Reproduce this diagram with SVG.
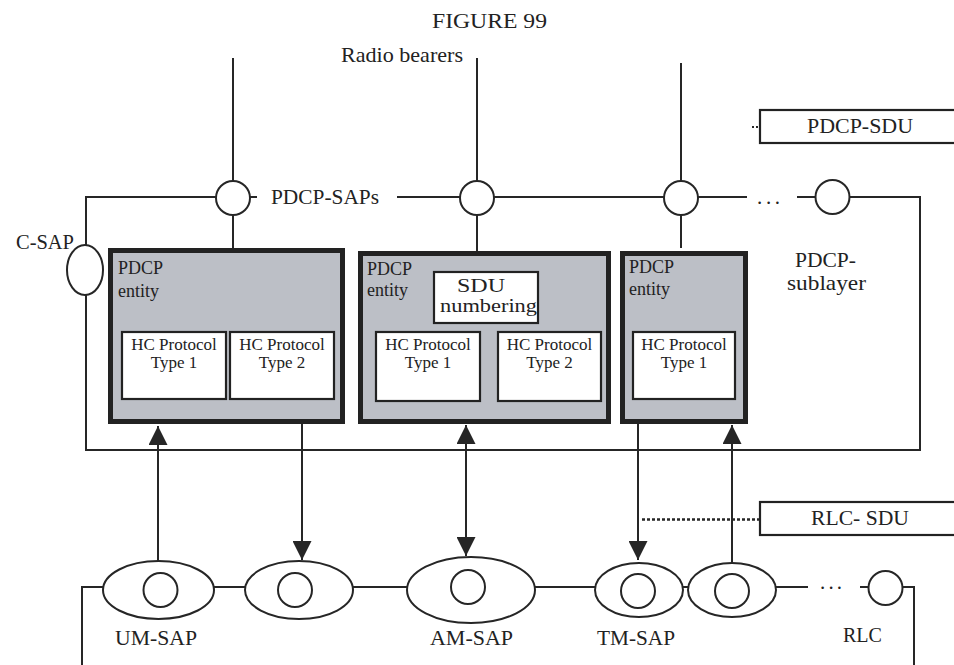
<svg xmlns="http://www.w3.org/2000/svg" width="954" height="665" viewBox="0 0 954 665">
<style>
text{font-family:"Liberation Serif","Times New Roman",serif;fill:#222}
.ln{stroke:#262626;stroke-width:2;fill:none}
.sap{stroke:#262626;stroke-width:2;fill:#fff}
.ent{fill:#bcbfc6;stroke:#222;stroke-width:5}
.hc{fill:#fff;stroke:#222;stroke-width:2.2}
.lbl{font-size:21px}
.t17{font-size:17px;text-anchor:middle}
.t18{font-size:18px}
.arr{stroke:#262626;stroke-width:2;fill:none}
</style>
<defs>
<marker id="ah" markerUnits="userSpaceOnUse" markerWidth="19" markerHeight="19" refX="19" refY="9.5" orient="auto-start-reverse">
<path d="M0,0 L19,9.5 L0,19 z" fill="#262626"/>
</marker>
</defs>

<text x="432" y="28" font-size="22" textLength="115" lengthAdjust="spacingAndGlyphs">FIGURE 99</text>
<text x="341" y="62" class="lbl" textLength="122" lengthAdjust="spacingAndGlyphs">Radio bearers</text>

<g id="pdcp-sublayer-frame">
<path class="ln" d="M233,58 V182 M477,58 V181 M681,63 V181"/>
<path class="ln" d="M86,245 V197 H216 M250,197 H257 M397,197 H460 M494,197 H664 M698,197 H747 M797,197 H815 M850,197 H920 V450 H86 V295"/>
<path class="ln" d="M233,215 V248 M477,215 V251 M681,215 V248"/>
<text x="271" y="204" class="lbl" textLength="108" lengthAdjust="spacingAndGlyphs">PDCP-SAPs</text>
<text x="757" y="204" class="lbl" textLength="23">...</text>
<text x="795" y="267" class="lbl" textLength="61" lengthAdjust="spacingAndGlyphs">PDCP-</text>
<text x="787" y="290" class="lbl" textLength="79" lengthAdjust="spacingAndGlyphs">sublayer</text>
</g>

<g id="sap-pdcp-1"><circle class="sap" cx="233" cy="198" r="17"/></g>
<g id="sap-pdcp-2"><circle class="sap" cx="477" cy="198" r="17"/></g>
<g id="sap-pdcp-3"><circle class="sap" cx="681" cy="198" r="17"/></g>
<g id="sap-pdcp-4"><circle class="sap" cx="832.5" cy="197" r="17"/></g>

<g id="c-sap">
<ellipse class="sap" cx="85" cy="270" rx="18" ry="25"/>
<text x="16" y="249" class="lbl" textLength="58" lengthAdjust="spacingAndGlyphs">C-SAP</text>
</g>

<g id="pdcp-sdu">
<rect class="hc" x="760" y="110" width="210" height="33"/>
<path d="M752,127 H759" stroke="#262626" stroke-width="2" stroke-dasharray="2 2"/>
<text x="807" y="133" class="lbl" textLength="106" lengthAdjust="spacingAndGlyphs">PDCP-SDU</text>
</g>

<g id="entity-1">
<rect class="ent" x="110.5" y="250.5" width="232" height="171"/>
<text x="118" y="274" class="t18">PDCP</text>
<text x="118" y="297" class="t18">entity</text>
<rect class="hc" x="122" y="332" width="104" height="67"/>
<text x="174" y="350" class="t17">HC Protocol</text>
<text x="174" y="368" class="t17">Type 1</text>
<rect class="hc" x="230" y="332" width="104" height="67"/>
<text x="282" y="350" class="t17">HC Protocol</text>
<text x="282" y="368" class="t17">Type 2</text>
</g>

<g id="entity-2">
<rect class="ent" x="360.5" y="253.5" width="248" height="168"/>
<text x="367" y="275" class="t18">PDCP</text>
<text x="367" y="296" class="t18">entity</text>
<rect class="hc" x="434" y="272" width="104" height="51"/>
<text x="457" y="291.5" font-size="18" textLength="48" lengthAdjust="spacingAndGlyphs">SDU</text>
<text x="440" y="312" font-size="18" textLength="97" lengthAdjust="spacingAndGlyphs">numbering</text>
<rect class="hc" x="376" y="332" width="104" height="69"/>
<text x="428" y="350" class="t17">HC Protocol</text>
<text x="428" y="368" class="t17">Type 1</text>
<rect class="hc" x="498" y="332" width="103" height="69"/>
<text x="549.5" y="350" class="t17">HC Protocol</text>
<text x="549.5" y="368" class="t17">Type 2</text>
</g>

<g id="entity-3">
<rect class="ent" x="622.5" y="253.5" width="123" height="168"/>
<text x="629" y="273" class="t18">PDCP</text>
<text x="629" y="295" class="t18">entity</text>
<rect class="hc" x="633" y="332" width="102" height="67"/>
<text x="684" y="350" class="t17">HC Protocol</text>
<text x="684" y="368" class="t17">Type 1</text>
</g>

<g id="rlc-sdu">
<path d="M642,519.5 H760" stroke="#262626" stroke-width="2.5" stroke-dasharray="3 2"/>
<rect class="hc" x="760" y="502" width="210" height="33"/>
<text x="811" y="525" class="lbl" textLength="98" lengthAdjust="spacingAndGlyphs">RLC- SDU</text>
</g>

<g id="rlc-frame">
<path class="ln" d="M82,665 V587 H103 M214,587 H245 M353,587 H407 M535,587 H595 M683,587 H688 M776,587 H808 M860,587 H868 M903,587 H914 V665"/>
<text x="820" y="589" class="lbl" textLength="22">...</text>
<text x="843" y="642" class="lbl" textLength="39" lengthAdjust="spacingAndGlyphs">RLC</text>
</g>

<g id="um-sap">
<ellipse class="sap" cx="158.5" cy="590" rx="55.5" ry="29"/>
<circle class="sap" cx="160.5" cy="590" r="17"/>
<text x="115" y="645" class="lbl" textLength="82" lengthAdjust="spacingAndGlyphs">UM-SAP</text>
</g>
<g id="um-sap-2">
<ellipse class="sap" cx="299" cy="590" rx="54" ry="29"/>
<circle class="sap" cx="295" cy="590" r="17"/>
</g>
<g id="am-sap">
<ellipse class="sap" cx="471" cy="590" rx="64" ry="33"/>
<circle class="sap" cx="468" cy="587" r="17"/>
<text x="430" y="645" class="lbl" textLength="83" lengthAdjust="spacingAndGlyphs">AM-SAP</text>
</g>
<g id="tm-sap">
<ellipse class="sap" cx="639" cy="590" rx="44" ry="27"/>
<circle class="sap" cx="638" cy="591" r="17"/>
<text x="597" y="645" class="lbl" textLength="78" lengthAdjust="spacingAndGlyphs">TM-SAP</text>
</g>
<g id="tm-sap-2">
<ellipse class="sap" cx="732" cy="590" rx="44" ry="27"/>
<circle class="sap" cx="732" cy="591" r="17"/>
</g>
<g id="rlc-sap-n">
<circle class="sap" cx="885.5" cy="588" r="17"/>
</g>

<g id="connectors">
<line class="arr" x1="158" y1="562" x2="158" y2="426" marker-end="url(#ah)"/>
<line class="arr" x1="302" y1="424" x2="302" y2="560" marker-end="url(#ah)"/>
<line class="arr" x1="466" y1="425" x2="466" y2="556" marker-start="url(#ah)" marker-end="url(#ah)"/>
<line class="arr" x1="638" y1="424" x2="638" y2="560" marker-end="url(#ah)"/>
<line class="arr" x1="732" y1="562" x2="732" y2="425" marker-end="url(#ah)"/>
</g>
</svg>
